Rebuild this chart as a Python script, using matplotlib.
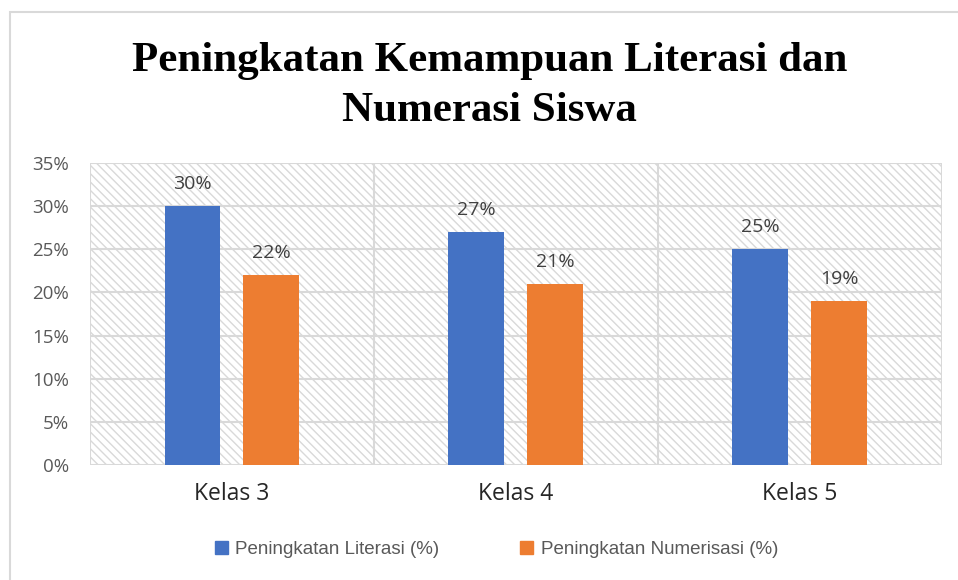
import matplotlib.pyplot as plt
from matplotlib.patches import Rectangle, Patch
import numpy as np

categories = ['Kelas 3', 'Kelas 4', 'Kelas 5']
literasi = [30, 27, 25]
numerasi = [22, 21, 19]
series_names = ['Peningkatan Literasi (%)', 'Peningkatan Numerisasi (%)']
yticks = [0, 5, 10, 15, 20, 25, 30, 35]

blue = '#4472c4'
orange = '#ed7d31'
grid = '#d9d9d9'
txt = '#595959'

plt.rcParams['font.family'] = ['Open Sans', 'DejaVu Sans']
plt.rcParams['hatch.linewidth'] = 1.0
plt.rcParams['hatch.color'] = grid

fig = plt.figure(figsize=(9.58, 5.80), dpi=100)
ax = fig.add_axes([0.094, 0.198, 0.889, 0.521])

# outer chart border (runs off the right/bottom edges like the screenshot)
fig.patches.append(Rectangle((10 / 958, -0.1), 1.2, 1 - 12 / 580 + 0.1,
                             transform=fig.transFigure, fill=False,
                             edgecolor='#d9d9d9', lw=1.5, zorder=0))

# hatched plot background
ax.add_patch(Rectangle((0, 0), 1, 1, transform=ax.transAxes, facecolor='white',
                       edgecolor=grid, hatch='\\\\\\\\', lw=0, zorder=0))

x = np.arange(len(categories))
w = 0.197
off = 0.139
b1 = ax.bar(x - off, literasi, w, color=blue, zorder=3)
b2 = ax.bar(x + off, numerasi, w, color=orange, zorder=3)

for bars, vals in ((b1, literasi), (b2, numerasi)):
    for b, v in zip(bars, vals):
        ax.text(b.get_x() + b.get_width() / 2, v + 1.5, f'{v}%', ha='center',
                va='bottom', fontsize=14, color='#404040')

ax.set_xlim(-0.5, 2.5)
ax.set_ylim(0, 35)
ax.set_yticks(yticks)
ax.set_yticklabels([f'{t}%' for t in yticks], fontsize=13.5, color=txt)
ax.set_xticks(x)
ax.set_xticklabels(categories, fontsize=16.5, color='#262626')
ax.tick_params(length=0)
ax.tick_params(axis='y', pad=15)
ax.tick_params(axis='x', pad=12)

for t in yticks:
    ax.axhline(t, color=grid, lw=1.5, zorder=1)
for xv in (-0.5, 0.5, 1.5, 2.5):
    ax.axvline(xv, color=grid, lw=1.5, zorder=1)
for s in ax.spines.values():
    s.set_visible(False)

fig.text(0.511, 0.852, 'Peningkatan Kemampuan Literasi dan\nNumerasi Siswa',
         ha='center', va='center', fontsize=31, fontweight='bold',
         family='Liberation Serif', linespacing=1.4)

handles = [Patch(color=blue), Patch(color=orange)]
leg = fig.legend(handles, series_names, loc='center', bbox_to_anchor=(0.518, 0.053),
                 ncol=2, frameon=False, handlelength=0.7,
                 handleheight=0.7, handletextpad=0.4, columnspacing=4.3,
                 prop={'family': 'Liberation Sans', 'size': 13.5})
for t in leg.get_texts():
    t.set_color(txt)

fig.savefig('out.png', dpi=100)
